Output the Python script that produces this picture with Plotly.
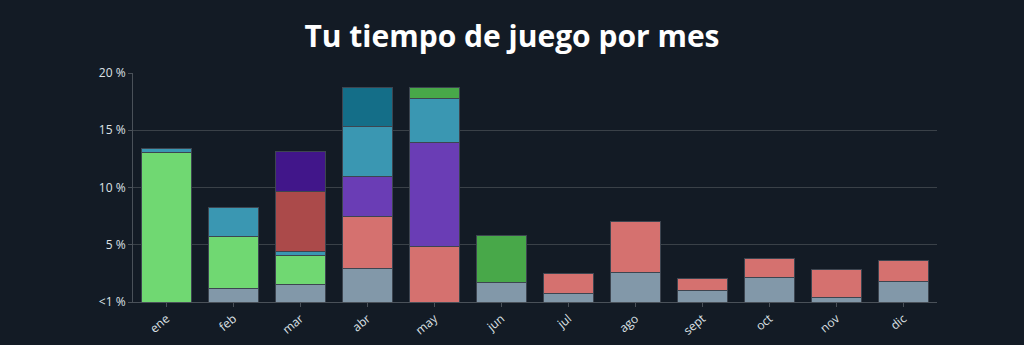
import plotly.graph_objects as go

months = ["ene", "feb", "mar", "abr", "may", "jun", "jul", "ago", "sept", "oct", "nov", "dic"]

# segment heights (%) per game, stacked bottom to top
grey       = [None, 1.17, 1.52, 2.91, None, 1.66, 0.70, 2.57, 1.02, 2.10, 0.38, 1.78]
salmon     = [None, None, None, 4.54, 4.87, None, 1.83, 4.48, 0.99, 1.66, 2.42, 1.83]
lightgreen = [13.10, 4.57, 2.53, None, None, None, None, None, None, None, None, None]
teal_a     = [0.32, 2.50, 0.38, None, None, None, None, None, None, None, None, None]
red        = [None, None, 5.24, None, None, None, None, None, None, None, None, None]
darkpurple = [None, None, 3.46, None, None, None, None, None, None, None, None, None]
purple     = [None, None, None, 3.53, 9.02, None, None, None, None, None, None, None]
teal_b     = [None, None, None, 4.37, 3.90, None, None, None, None, None, None, None]
darkteal   = [None, None, None, 3.35, None, None, None, None, None, None, None, None]
green2     = [None, None, None, None, 0.91, 4.11, None, None, None, None, None, None]

series = [
    ("grey", grey, "#8298a9"),
    ("salmon", salmon, "#d5716f"),
    ("lightgreen", lightgreen, "#70d872"),
    ("teal_a", teal_a, "#3a97b2"),
    ("red", red, "#ab4a4a"),
    ("darkpurple", darkpurple, "#41168a"),
    ("purple", purple, "#6a3db5"),
    ("teal_b", teal_b, "#3a97b2"),
    ("darkteal", darkteal, "#146e88"),
    ("green2", green2, "#48a849"),
]

ytickvals = [0, 5, 10, 15, 20]
yticktext = ["<1 %", "5 %", "10 %", "15 %", "20 %"]

fig = go.Figure()
for name, vals, color in series:
    fig.add_trace(go.Bar(
        x=months, y=vals, name=name,
        marker=dict(color=color, line=dict(color="#3d4550", width=1)),
        hoverinfo="skip",
    ))

fig.update_layout(
    barmode="stack",
    bargap=0.25,
    width=1024, height=345,
    margin=dict(l=133, r=87, t=73, b=43),
    paper_bgcolor="#131b25",
    plot_bgcolor="rgba(0,0,0,0)",
    showlegend=False,
    title=dict(
        text="<b>Tu tiempo de juego por mes</b>",
        x=0.5, xanchor="center", y=0.895, yanchor="middle",
        font=dict(family="Open Sans", size=30, color="#ffffff"),
    ),
    font=dict(family="Open Sans", size=12, color="#dde1e6"),
)
fig.update_yaxes(
    range=[0, 20], tickvals=ytickvals, ticktext=yticktext,
    showgrid=True, gridcolor="#3a4148", gridwidth=1,
    showline=True, linecolor="#4a5159", linewidth=1,
    ticks="outside", ticklen=4, tickcolor="#4a5159",
    zeroline=False, fixedrange=True, automargin=False,
)
fig.update_xaxes(
    tickangle=-40,
    showline=True, linecolor="#4a5159", linewidth=1,
    ticks="outside", ticklen=4, tickcolor="#4a5159",
    showgrid=False, automargin=False,
)

fig.write_html("out.html")
